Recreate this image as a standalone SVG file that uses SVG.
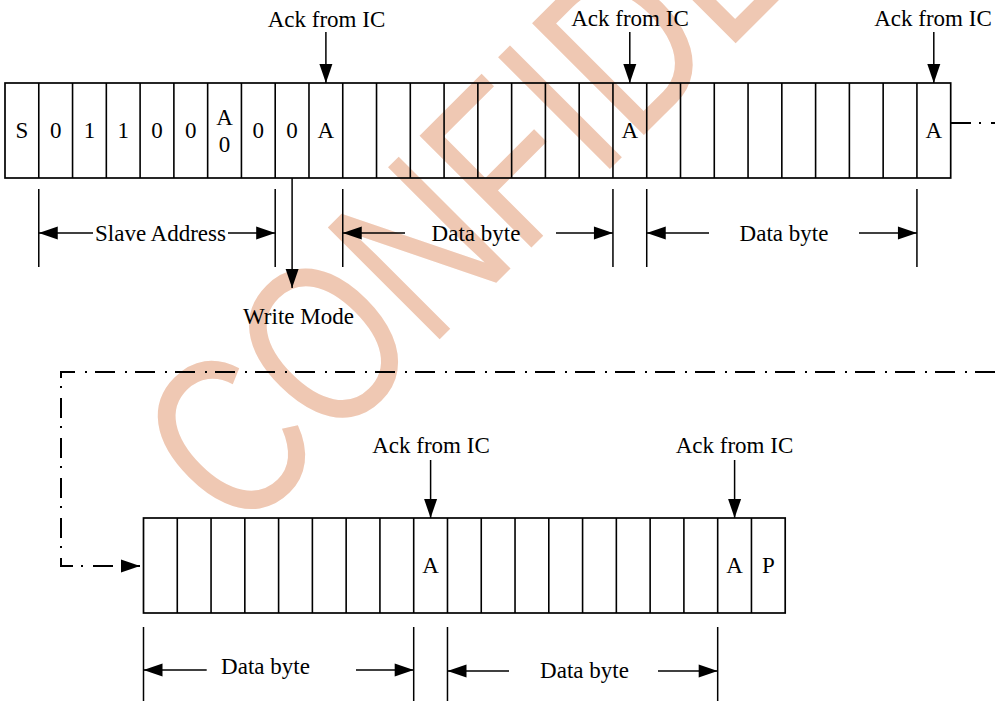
<svg xmlns="http://www.w3.org/2000/svg" width="995" height="701" viewBox="0 0 995 701">
<defs>
<marker id="ah" markerUnits="userSpaceOnUse" markerWidth="20" markerHeight="14" refX="19" refY="6.5" orient="auto" overflow="visible">
<path d="M0,0 L19,6.5 L0,13 Z" fill="#000"/>
</marker>
<style>
.t{font-family:"Liberation Serif","Times New Roman",serif;font-size:23px;fill:#000;text-anchor:middle}
.frame{fill:#fff;stroke:#000;stroke-width:1.7}
.cell{stroke:#000;stroke-width:1.6}
.tick{stroke:#000;stroke-width:1.5}
.arr{stroke:#000;stroke-width:1.5;fill:none;marker-end:url(#ah)}
.dd{stroke:#000;stroke-width:2;fill:none;stroke-dasharray:20 8 2 10}
.wm{font-family:"Liberation Sans",Arial,sans-serif;font-size:230px;fill:#EFC8B3}
</style>
</defs>
<rect width="995" height="701" fill="#fff"/>
<g id="watermark">
<text class="wm" transform="translate(239,540) rotate(-45) scale(0.78,1)">CONFIDENTIAL</text>
</g>

<g id="frame-top">
<rect class="frame" x="5" y="83" width="945.7" height="95" fill-opacity="0"/>
<path class="cell" d="M38.78,83V178M72.55,83V178M106.33,83V178M140.1,83V178M173.88,83V178M207.65,83V178M241.43,83V178M275.2,83V178M308.98,83V178M342.75,83V178M376.53,83V178M410.3,83V178M444.08,83V178M477.85,83V178M511.63,83V178M545.4,83V178M579.18,83V178M612.95,83V178M646.73,83V178M680.5,83V178M714.28,83V178M748.05,83V178M781.83,83V178M815.6,83V178M849.38,83V178M883.15,83V178M916.93,83V178"/>
<text class="t" x="21.9" y="138">S</text>
<text class="t" x="55.7" y="138">0</text>
<text class="t" x="89.4" y="138">1</text>
<text class="t" x="123.2" y="138">1</text>
<text class="t" x="157" y="138">0</text>
<text class="t" x="190.8" y="138">0</text>
<text class="t" x="224.5" y="125">A</text>
<text class="t" x="224.5" y="152">0</text>
<text class="t" x="258.3" y="138">0</text>
<text class="t" x="292.1" y="138">0</text>
<text class="t" x="325.9" y="138">A</text>
<text class="t" x="629.8" y="138">A</text>
<text class="t" x="933.8" y="138">A</text>
</g>

<g id="frame-bottom">
<rect class="frame" x="143.5" y="518" width="641.7" height="95" fill-opacity="0"/>
<path class="cell" d="M177.28,518V613M211.05,518V613M244.83,518V613M278.6,518V613M312.38,518V613M346.15,518V613M379.93,518V613M413.7,518V613M447.48,518V613M481.25,518V613M515.03,518V613M548.8,518V613M582.58,518V613M616.35,518V613M650.13,518V613M683.9,518V613M717.68,518V613M751.45,518V613"/>
<text class="t" x="430.6" y="573">A</text>
<text class="t" x="734.6" y="573">A</text>
<text class="t" x="768.3" y="573">P</text>
</g>

<g id="ack-labels">
<text class="t" x="326.5" y="27">Ack from IC</text>
<text class="t" x="630" y="26">Ack from IC</text>
<text class="t" x="933" y="26">Ack from IC</text>
<text class="t" x="431" y="453">Ack from IC</text>
<text class="t" x="734.5" y="453">Ack from IC</text>
</g>

<g id="dimension-labels">
<text class="t" x="160.5" y="241">Slave Address</text>
<text class="t" x="476" y="241">Data byte</text>
<text class="t" x="784" y="241">Data byte</text>
<text class="t" x="298.5" y="324">Write Mode</text>
<text class="t" x="265.5" y="674">Data byte</text>
<text class="t" x="584.5" y="678">Data byte</text>
</g>

<g id="connectors">
<path class="arr" d="M325.9,32V83"/>
<path class="arr" d="M629.8,32V83"/>
<path class="arr" d="M933.8,32V83"/>
<path class="arr" d="M430.6,460V518"/>
<path class="arr" d="M734.6,460V518"/>
<path class="arr" d="M292.1,178V288"/>
<path class="tick" d="M38.78,189V267M275.2,189V267M342.75,189V267M612.95,189V267M646.73,189V267M916.93,189V267"/>
<path class="arr" d="M93,233H38.78"/>
<path class="arr" d="M228,233H275.2"/>
<path class="arr" d="M405,233H342.75"/>
<path class="arr" d="M556,233H612.95"/>
<path class="arr" d="M709,233H646.73"/>
<path class="arr" d="M859,233H916.93"/>
<path class="tick" d="M143.5,627V701M413.7,627V701M447.48,627V701M717.68,627V701"/>
<path class="arr" d="M206.7,670H143.5"/>
<path class="arr" d="M356,670H413.7"/>
<path class="arr" d="M509,671H447.48"/>
<path class="arr" d="M658,671H717.68"/>
<path class="dd" d="M951,123H995"/>
<path class="dd" d="M995,372H61V566H140" marker-end="url(#ah)"/>
</g>
</svg>
